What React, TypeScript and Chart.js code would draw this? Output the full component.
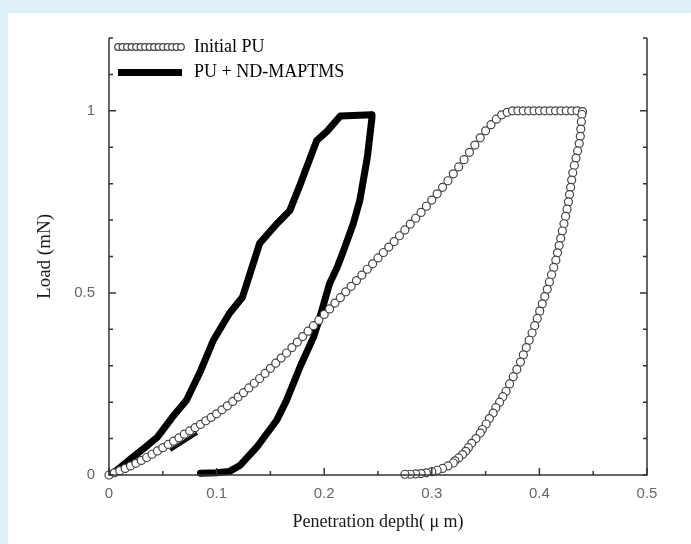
import React, { useEffect, useRef } from "react";
import { Chart, registerables } from "chart.js";

Chart.register(...registerables);

// ---- tick labels ----
const X_TICK_LABELS = ["0", "0.1", "0.2", "0.3", "0.4", "0.5"];
const Y_TICK_LABELS = ["0", "0.5", "1"];

// ---- Initial PU: loading branch ----
const puLoadX = [
  0.0, 0.005, 0.01, 0.015, 0.02, 0.025, 0.03, 0.035, 0.04, 0.045, 0.05, 0.055, 0.06, 0.065, 0.07, 0.075,
  0.08, 0.085, 0.09, 0.095, 0.1, 0.105, 0.11, 0.115, 0.12, 0.125, 0.13, 0.135, 0.14, 0.145, 0.15, 0.155,
  0.16, 0.165, 0.17, 0.175, 0.18, 0.185, 0.19, 0.195, 0.2, 0.205, 0.21, 0.215, 0.22, 0.225, 0.23, 0.235,
  0.24, 0.245, 0.25, 0.255, 0.26, 0.265, 0.27, 0.275, 0.28, 0.285, 0.29, 0.295, 0.3, 0.305, 0.31, 0.315,
  0.32, 0.325, 0.33, 0.335, 0.34, 0.345, 0.35, 0.355, 0.36, 0.365, 0.37, 0.375,
];
const puLoadY = [
  0.0, 0.006, 0.012, 0.018, 0.025, 0.032, 0.04, 0.048, 0.057, 0.066, 0.075, 0.084, 0.093, 0.102, 0.112, 0.121,
  0.13, 0.139, 0.149, 0.158, 0.168, 0.179, 0.19, 0.202, 0.214, 0.226, 0.239, 0.252, 0.265, 0.279, 0.293, 0.307,
  0.321, 0.335, 0.35, 0.365, 0.38, 0.395, 0.41, 0.425, 0.441, 0.456, 0.472, 0.487, 0.503, 0.518, 0.534, 0.549,
  0.565, 0.58, 0.596, 0.611, 0.626, 0.641, 0.657, 0.673, 0.689, 0.705, 0.721, 0.738, 0.755, 0.772, 0.79, 0.808,
  0.827, 0.846, 0.866, 0.886, 0.906, 0.926, 0.945, 0.962, 0.977, 0.989, 0.996, 1.0,
];

// ---- Initial PU: hold at peak load ----
const puHoldX = [0.38, 0.385, 0.39, 0.395, 0.4, 0.405, 0.41, 0.415, 0.42, 0.425, 0.43, 0.435];
const puHoldY = [1.0, 1.0, 1.0, 1.0, 1.0, 1.0, 1.0, 1.0, 1.0, 1.0, 1.0, 1.0];

// ---- Initial PU: unloading branch ----
const puUnloadX = [
  0.44, 0.4395, 0.439, 0.4385, 0.438, 0.437, 0.4355, 0.434, 0.4325, 0.431, 0.43, 0.429, 0.428, 0.427, 0.4257,
  0.4243, 0.4228, 0.4213, 0.4198, 0.4183, 0.4168, 0.4153, 0.4133, 0.4113, 0.4093, 0.4073, 0.405, 0.4027,
  0.4003, 0.398, 0.3956, 0.3932, 0.3905, 0.3878, 0.3851, 0.3824, 0.379, 0.3757, 0.3723, 0.369, 0.366, 0.363,
  0.3595, 0.357, 0.3535, 0.3505, 0.347, 0.345, 0.341, 0.337, 0.334, 0.3315, 0.3285, 0.325, 0.3215, 0.32,
  0.315, 0.31, 0.305, 0.3, 0.295, 0.29, 0.285, 0.28, 0.275,
];
const puUnloadY = [
  0.998, 0.99, 0.97, 0.95, 0.93, 0.91, 0.89, 0.87, 0.85, 0.83, 0.81, 0.79, 0.77, 0.75, 0.73,
  0.71, 0.69, 0.67, 0.65, 0.63, 0.61, 0.59, 0.57, 0.55, 0.53, 0.51, 0.49, 0.47,
  0.45, 0.43, 0.41, 0.39, 0.37, 0.35, 0.33, 0.31, 0.29, 0.27, 0.25, 0.23, 0.215, 0.2,
  0.185, 0.17, 0.155, 0.14, 0.125, 0.115, 0.1, 0.087, 0.075, 0.065, 0.056, 0.047, 0.039, 0.033,
  0.025, 0.018, 0.013, 0.009, 0.006, 0.004, 0.003, 0.002, 0.002,
];

// ---- PU + ND-MAPTMS (loading, hold, unloading) ----
const ndX = [
  0.001, 0.011, 0.022, 0.034, 0.045, 0.059, 0.072, 0.085, 0.097, 0.112, 0.124, 0.132, 0.14, 0.156, 0.168,
  0.178, 0.187, 0.193, 0.203, 0.215, 0.244, 0.2444, 0.24, 0.233, 0.227, 0.217, 0.212, 0.205, 0.196, 0.19,
  0.178, 0.165, 0.156, 0.1375, 0.122, 0.112, 0.1, 0.085,
];
const ndY = [
  0.0, 0.022, 0.049, 0.077, 0.104, 0.159, 0.205, 0.285, 0.37, 0.444, 0.488, 0.562, 0.636, 0.69, 0.726,
  0.8, 0.871, 0.918, 0.945, 0.986, 0.989, 0.981, 0.871, 0.753, 0.69, 0.608, 0.57, 0.526, 0.433, 0.378,
  0.3, 0.205, 0.151, 0.077, 0.027, 0.01, 0.006, 0.005,
];

// ---- stray black marks in the figure ----
const strayX = [0.057, 0.082];
const strayY = [0.068, 0.115];

const toPoints = (xs: number[], ys: number[]) => xs.map((x, i) => ({ x, y: ys[i] }));

const TICK_FONT = { family: "'Liberation Sans', Arial, sans-serif", size: 15 };
const SERIF = "'Liberation Serif', 'DejaVu Serif', serif";

function makeCircleSample(): HTMLCanvasElement {
  const c = document.createElement("canvas");
  c.width = 72;
  c.height = 10;
  const g = c.getContext("2d")!;
  for (let cx = 4; cx <= 68; cx += 4.5) {
    g.beginPath();
    g.arc(cx, 5, 3.3, 0, Math.PI * 2);
    g.fillStyle = "#fff";
    g.fill();
    g.lineWidth = 1.2;
    g.strokeStyle = "#444";
    g.stroke();
  }
  return c;
}

function makeBarSample(): HTMLCanvasElement {
  const c = document.createElement("canvas");
  c.width = 64;
  c.height = 7;
  const g = c.getContext("2d")!;
  g.fillStyle = "#000";
  g.fillRect(0, 0, 64, 7);
  return c;
}

const isMultiple = (v: number, step: number) => Math.abs(v / step - Math.round(v / step)) < 1e-6;

const framePlugin = {
  id: "frame",
  afterDatasetsDraw(chart: any) {
    const { ctx, chartArea: a, scales } = chart;
    const xs = scales.x;
    const ys = scales.y;
    ctx.save();
    ctx.strokeStyle = "#333";
    ctx.lineWidth = 1.5;
    ctx.beginPath();
    ctx.moveTo(a.left, a.top);
    ctx.lineTo(a.left, a.bottom);
    ctx.lineTo(a.right, a.bottom);
    ctx.lineTo(a.right, a.top);
    ctx.stroke();
    ctx.beginPath();
    ys.ticks.forEach((t: any) => {
      const py = ys.getPixelForValue(t.value);
      const major = isMultiple(t.value, 0.5) && t.value > 0;
      const len = major ? 7 : 4;
      ctx.moveTo(a.left, py);
      ctx.lineTo(a.left + len, py);
      ctx.moveTo(a.right, py);
      ctx.lineTo(a.right - len, py);
    });
    xs.ticks.forEach((t: any) => {
      const px = xs.getPixelForValue(t.value);
      const major = isMultiple(t.value, 0.1);
      const len = major ? 7 : 4;
      ctx.moveTo(px, a.bottom);
      ctx.lineTo(px, a.bottom - len);
    });
    ctx.stroke();
    ctx.restore();
  },
  afterLayout(chart: any) {
    const lg = chart.legend;
    const a = chart.chartArea;
    if (lg && a) {
      const w = lg.width;
      const h = lg.height;
      lg.left = a.left - 1;
      lg.top = a.top - 7;
      lg.right = lg.left + w;
      lg.bottom = lg.top + h;
    }
  },
};

export default function App() {
  const canvasRef = useRef<HTMLCanvasElement | null>(null);

  useEffect(() => {
    const canvas = canvasRef.current;
    if (!canvas) return;
    const circleImg = makeCircleSample();
    const barImg = makeBarSample();

    const chart = new Chart(canvas, {
      type: "scatter",
      data: {
        datasets: [
          {
            label: "Initial PU",
            data: [
              ...toPoints(puLoadX, puLoadY),
              ...toPoints(puHoldX, puHoldY),
              ...toPoints(puUnloadX, puUnloadY),
            ],
            showLine: false,
            pointRadius: 4,
            pointBorderWidth: 1.2,
            pointBorderColor: "#444",
            pointBackgroundColor: "#ffffff",
            clip: false,
          } as any,
          {
            label: "PU + ND-MAPTMS",
            data: toPoints(ndX, ndY),
            showLine: true,
            borderColor: "#000",
            backgroundColor: "#000",
            borderWidth: 7,
            borderJoinStyle: "round",
            borderCapStyle: "round",
            pointRadius: 0,
            tension: 0,
            clip: false,
          } as any,
          {
            label: "stray",
            data: toPoints(strayX, strayY),
            showLine: true,
            borderColor: "#111",
            borderWidth: 3.5,
            pointRadius: 0,
            clip: false,
          } as any,
        ],
      },
      options: {
        animation: false,
        responsive: false,
        maintainAspectRatio: false,
        events: [],
        layout: { padding: { left: 0, top: 25, right: 44, bottom: 0 } },
        plugins: {
          tooltip: { enabled: false },
          legend: {
            position: "chartArea" as any,
            align: "start",
            labels: {
              usePointStyle: true,
              pointStyleWidth: 70,
              padding: 7,
              color: "#1a1a1a",
              font: { family: SERIF, size: 18 },
              generateLabels: () => [
                {
                  text: "Initial PU",
                  pointStyle: circleImg as any,
                  datasetIndex: 0,
                  hidden: false,
                  lineWidth: 0,
                  fillStyle: "#fff",
                  strokeStyle: "#444",
                },
                {
                  text: "PU + ND-MAPTMS",
                  pointStyle: barImg as any,
                  datasetIndex: 1,
                  hidden: false,
                  lineWidth: 0,
                  fillStyle: "#000",
                  strokeStyle: "#000",
                },
              ],
            },
          },
        },
        scales: {
          x: {
            type: "linear",
            min: 0,
            max: 0.5,
            grid: { display: false },
            border: { display: false },
            ticks: {
              stepSize: 0.05,
              autoSkip: false,
              maxRotation: 0,
              padding: 2,
              color: "#666",
              font: TICK_FONT,
              callback: (v: any) => {
                const s = String(Math.round(Number(v) * 100) / 100);
                return X_TICK_LABELS.includes(s) ? s : "";
              },
            },
            title: {
              display: true,
              text: "Penetration depth( μ m)",
              color: "#1a1a1a",
              font: { family: SERIF, size: 18 },
              padding: { top: 0, bottom: 11 },
            },
            afterFit: (s: any) => {
              s.height = 69;
            },
          },
          y: {
            type: "linear",
            min: 0,
            max: 1.2,
            grid: { display: false },
            border: { display: false },
            ticks: {
              stepSize: 0.1,
              autoSkip: false,
              padding: 6,
              color: "#666",
              font: TICK_FONT,
              callback: (v: any) => {
                const s = String(Math.round(Number(v) * 100) / 100);
                return Y_TICK_LABELS.includes(s) ? s : "";
              },
            },
            title: {
              display: true,
              text: "Load (mN)",
              color: "#1a1a1a",
              font: { family: SERIF, size: 19 },
              padding: { top: 26, bottom: 0 },
            },
            afterFit: (s: any) => {
              s.width = 101;
            },
          },
        },
      },
      plugins: [framePlugin],
    });
    return () => chart.destroy();
  }, []);

  return (
    <div
      style={{
        position: "fixed",
        left: 0,
        top: 0,
        width: 691,
        height: 544,
        background: "#dff2fa",
        overflow: "hidden",
      }}
    >
      <div
        style={{
          position: "absolute",
          left: 8,
          top: 13,
          width: 683,
          height: 531,
          background: "#ffffff",
        }}
      >
        <canvas ref={canvasRef} width={683} height={531} style={{ width: 683, height: 531, display: "block" }} />
      </div>
    </div>
  );
}
